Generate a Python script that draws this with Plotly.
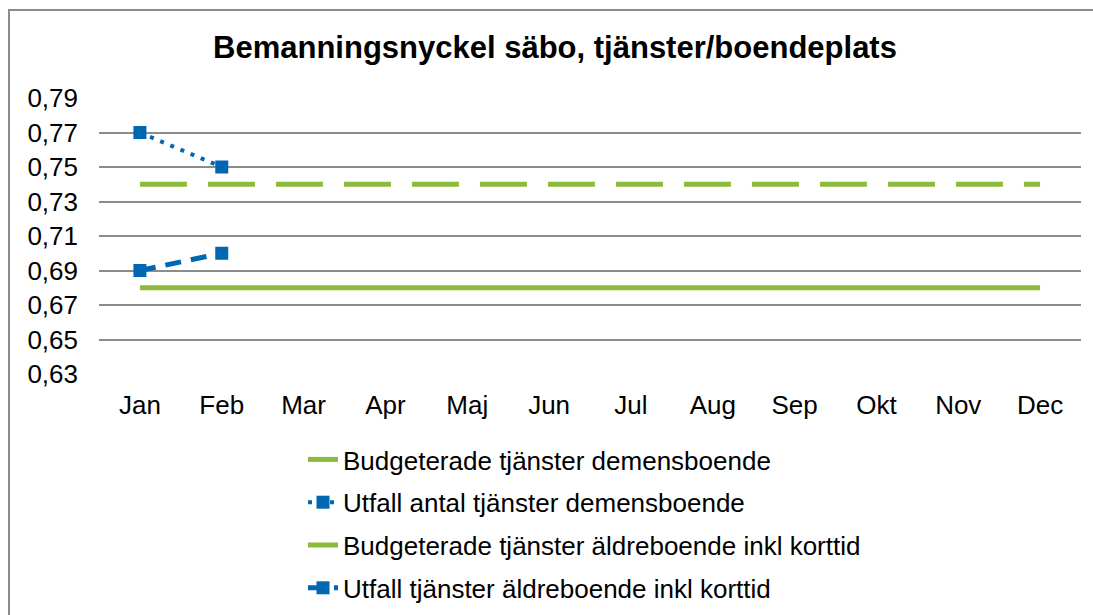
import plotly.graph_objects as go

months = ["Jan", "Feb", "Mar", "Apr", "Maj", "Jun", "Jul", "Aug", "Sep", "Okt", "Nov", "Dec"]
budget_demens = [0.74] * 12
utfall_demens = [0.77, 0.75]
budget_aldre = [0.68] * 12
utfall_aldre = [0.69, 0.70]
yticks = [0.63, 0.65, 0.67, 0.69, 0.71, 0.73, 0.75, 0.77, 0.79]

GREEN = "#8CBA3C"
BLUE = "#0067B1"
FONT = "Liberation Sans, Arial, sans-serif"

fig = go.Figure()
fig.add_trace(go.Scatter(
    x=months, y=budget_demens, mode="lines", name="Budgeterade tjänster demensboende",
    line=dict(color=GREEN, width=5, dash="47px,21px"), legendgroup="a"))
fig.add_trace(go.Scatter(
    x=months[:len(utfall_demens)], y=utfall_demens, mode="lines+markers",
    name="Utfall antal tjänster demensboende",
    line=dict(color=BLUE, width=4, dash="4px,7px"),
    marker=dict(symbol="square", size=13, color=BLUE), legendgroup="b"))
fig.add_trace(go.Scatter(
    x=months, y=budget_aldre, mode="lines", name="Budgeterade tjänster äldreboende inkl korttid",
    line=dict(color=GREEN, width=5), legendgroup="c"))
fig.add_trace(go.Scatter(
    x=months[:len(utfall_aldre)], y=utfall_aldre, mode="lines+markers",
    name="Utfall tjänster äldreboende inkl korttid",
    line=dict(color=BLUE, width=5, dash="16px,10px"),
    marker=dict(symbol="square", size=13, color=BLUE), legendgroup="d"))

L, R, T, B = 99, 12, 98, 241
W, H = 1093, 615
pw, ph = W - L - R, H - T - B

fig.update_layout(
    width=W, height=H,
    margin=dict(l=L, r=R, t=T, b=B, autoexpand=False),
    paper_bgcolor="white", plot_bgcolor="white",
    separators=", ",
    font=dict(family=FONT, size=26, color="#000000"),
    title=dict(text="<b>Bemanningsnyckel säbo, tjänster/boendeplats</b>",
               x=555 / W, xanchor="center", y=1 - 47 / H, yanchor="middle",
               font=dict(family=FONT, size=31, color="#000000")),
    xaxis=dict(type="category", range=[-0.5, 11.5], showgrid=False, showline=False,
               ticks="", ticklabelstandoff=13, tickfont=dict(size=26)),
    yaxis=dict(range=[0.63, 0.79], tickvals=yticks, tickformat=".2f",
               showgrid=True, gridcolor="#8C8C8C", gridwidth=2, zeroline=False,
               showline=False, ticks="", ticklabelstandoff=20, tickfont=dict(size=26)),
    legend=dict(xref="container", yref="container",
                x=303 / W, xanchor="left", y=1 - 436 / H, yanchor="top",
                traceorder="grouped", tracegroupgap=6,
                font=dict(family=FONT, size=26, color="#000000"),
                bgcolor="rgba(0,0,0,0)"),
    hovermode=False,
    showlegend=True,
)

fig.add_shape(type="rect", xref="paper", yref="paper",
              x0=(9 - L) / pw, x1=(1300 - L) / pw,
              y0=-(900 - (H - B)) / ph, y1=((H - B) - 10) / ph,
              line=dict(color="#8C8C8C", width=2), fillcolor="rgba(0,0,0,0)", layer="below")

fig.write_html("out.html", config={"displayModeBar": False},
               post_script="document.body.style.margin='0';document.body.style.overflow='hidden';")
